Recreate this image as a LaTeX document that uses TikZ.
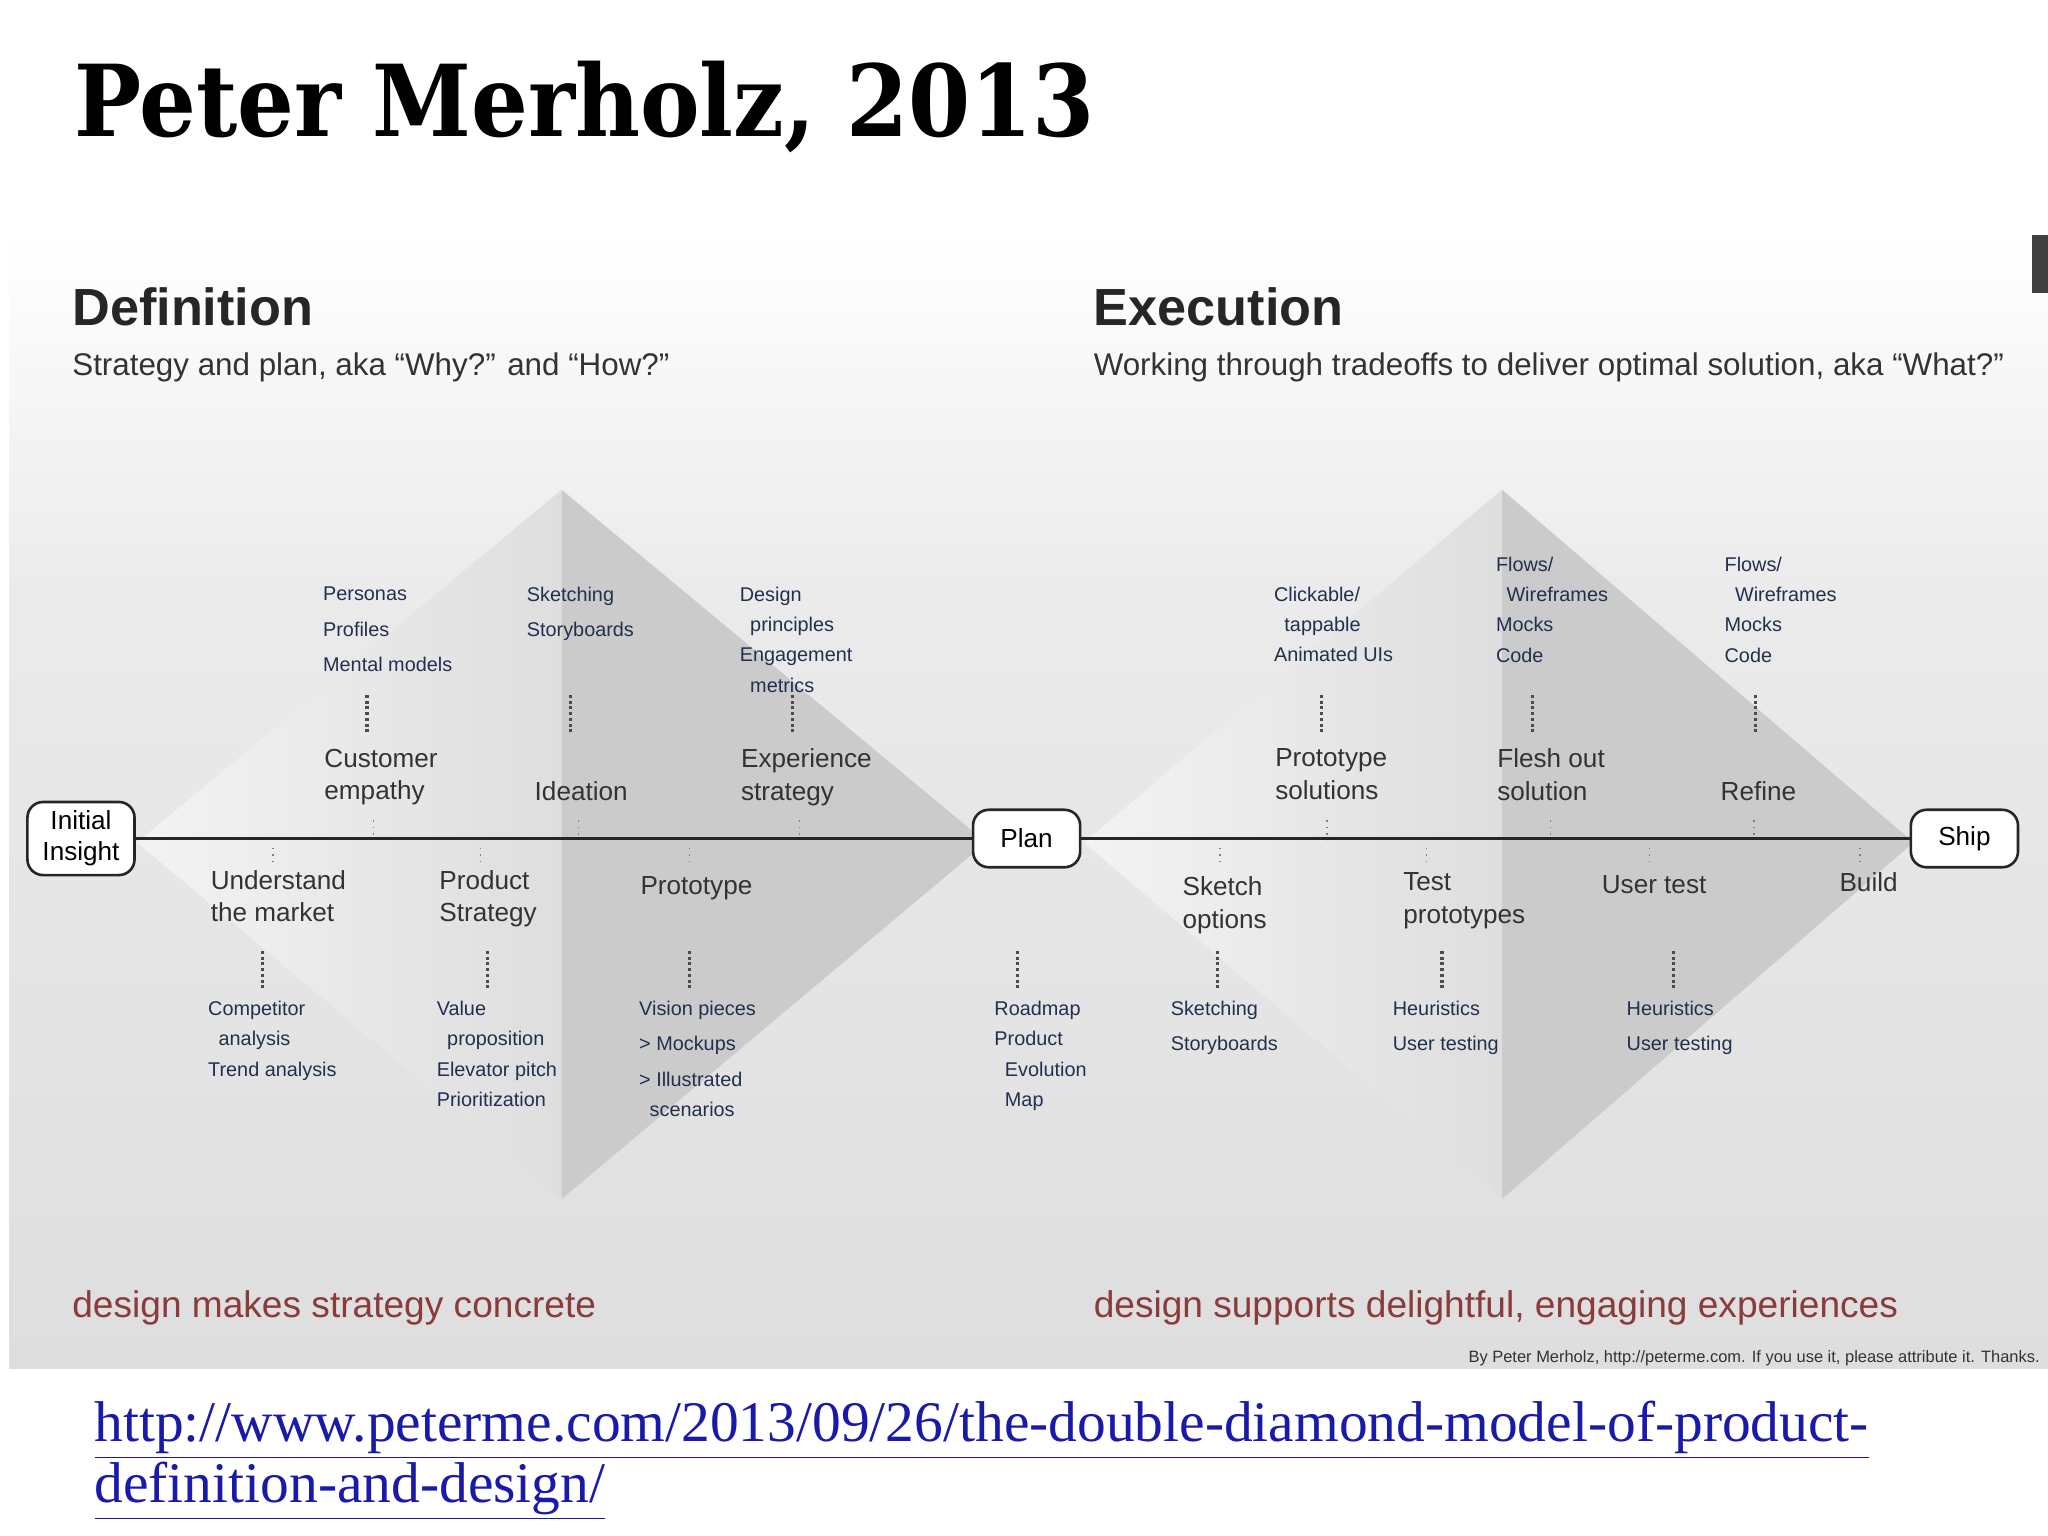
\documentclass[tikz,border=0pt]{standalone}
\usepackage{fontspec}
\setmainfont{Liberation Sans}
\newfontfamily\slab{DejaVu Serif Condensed}
\newfontfamily\urlfont{Liberation Serif}
\usetikzlibrary{shadings}
\definecolor{smallc}{HTML}{22304F}
\definecolor{medc}{HTML}{333333}
\definecolor{redc}{HTML}{8A3B3B}
\definecolor{linkc}{HTML}{1A1AAA}
\definecolor{bgA}{HTML}{EBEBEB}
\definecolor{bgB}{HTML}{DEDEDE}
\definecolor{dark}{HTML}{CBCBCB}
\tikzset{
 sm/.style={anchor=north west,align=left,inner sep=0pt,text=smallc,font=\fontsize{7.6}{11.6}\selectfont},
 md/.style={anchor=north west,align=left,inner sep=0pt,text=medc,font=\fontsize{10}{12.5}\selectfont},
 box/.style={draw=black!85,line width=1pt,rounded corners=6pt,fill=white,align=center,font=\fontsize{10}{12}\selectfont,minimum height=22pt,minimum width=41pt},
 dots/.style={densely dotted,line width=1.2pt,black!70},
 tdots/.style={dotted,line width=0.5pt,black!50},
}
\begin{document}
\begin{tikzpicture}[x=0.5pt,y=-0.5pt]
\useasboundingbox (0,0) rectangle (1568,1176);
\fill[white] (0,0) rectangle (1568,1176);
% panel
\shade[top color=white,bottom color=bgA] (7,180) rectangle (1568,450);
\shade[top color=bgA,bottom color=bgB] (7,450) rectangle (1568,1048);
\fill[black!75] (1556,180) rectangle (1568,224);
% diamonds
\foreach \l/\t/\r in {105/430/755, 830/1150/1465}{
 \shade[left color=bgA!60!white,right color=bgB] (\l,645) -- (\t,375) -- (\t,918) -- cycle;
 \fill[dark] (\t,375) -- (\r,645) -- (\t,918) -- cycle;
}
% title
\node[anchor=west,inner sep=0pt,font=\slab\bfseries\fontsize{38}{42}\selectfont] (title) at (57,82) {Peter Merholz, 2013};
\node[anchor=west,inner sep=0pt,font=\fontsize{20}{24}\selectfont\bfseries,text=black!85] (def) at (55,235) {Definition};
\node[anchor=west,inner sep=0pt,font=\fontsize{12}{14}\selectfont,text=medc] (defs) at (55,281) {Strategy and plan, aka “Why?” and “How?”};
\node[anchor=west,inner sep=0pt,font=\fontsize{20}{24}\selectfont\bfseries,text=black!85] (exe) at (837,235) {Execution};
\node[anchor=west,inner sep=0pt,font=\fontsize{12}{14}\selectfont,text=medc] (exes) at (837,281) {Working through tradeoffs to deliver optimal solution, aka “What?”};
% main line
\node[box] (ii) at (62,642) {Initial\\Insight};
\node[box] (plan) at (786,642) {Plan};
\node[box] (ship) at (1504,642) {Ship};
\draw[line width=1pt,black!85] (ii) -- (plan);
\draw[line width=1pt,black!85] (plan) -- (ship);
% upper small
\node[sm] (u1) at (247,449) {Personas\\[2pt]Profiles\\[2pt]Mental models};
\node[sm] (u2) at (403,449) {Sketching\\[2pt]Storyboards};
\node[sm] (u3) at (566,449) {Design\\\hspace*{4pt}principles\\Engagement\\\hspace*{4pt}metrics};
\node[sm] (u4) at (975,449) {Clickable/\\\hspace*{4pt}tappable\\Animated UIs};
\node[sm] (u5) at (1145,426) {Flows/\\\hspace*{4pt}Wireframes\\Mocks\\Code};
\node[sm] (u6) at (1320,426) {Flows/\\\hspace*{4pt}Wireframes\\Mocks\\Code};
% upper medium
\node[md] (m1) at (248,573) {Customer\\empathy};
\node[md] (m2) at (409,598) {Ideation};
\node[md] (m3) at (567,573) {Experience\\strategy};
\node[md] (m4) at (976,573) {Prototype\\solutions};
\node[md] (m5) at (1146,573) {Flesh out\\solution};
\node[md] (m6) at (1317,598) {Refine};
% lower medium
\node[md] (l1) at (161,666) {Understand\\the market};
\node[md] (l2) at (336,666) {Product\\Strategy};
\node[md] (l3) at (490,671) {Prototype};
\node[md] (l4) at (905,671) {Sketch\\options};
\node[md] (l5) at (1074,668) {Test\\prototypes};
\node[md] (l6) at (1226,670) {User test};
\node[md] (l7) at (1408,668) {Build};
% lower small
\node[sm] (s1) at (159,766) {Competitor\\\hspace*{4pt}analysis\\Trend analysis};
\node[sm] (s2) at (334,766) {Value\\\hspace*{4pt}proposition\\Elevator pitch\\Prioritization};
\node[sm] (s3) at (489,766) {Vision pieces\\[2pt]> Mockups\\[2pt]> Illustrated\\\hspace*{4pt}scenarios};
\node[sm] (s4) at (761,766) {Roadmap\\Product\\\hspace*{4pt}Evolution\\\hspace*{4pt}Map};
\node[sm] (s5) at (896,766) {Sketching\\[2pt]Storyboards};
\node[sm] (s6) at (1066,766) {Heuristics\\[2pt]User testing};
\node[sm] (s7) at (1245,766) {Heuristics\\[2pt]User testing};
% thick dotted connectors
\foreach \x in {281,437,607,1012,1173,1344}{\draw[dots] (\x,532) -- (\x,562);}
\foreach \x in {201,373,528,779,932,1104,1281}{\draw[dots] (\x,728) -- (\x,758);}
% thin dotted ticks
\foreach \x in {286,443,612,1016,1187,1343}{\draw[tdots] (\x,628) -- (\x,643);}
\foreach \x in {209,368,528,934,1092,1263,1424}{\draw[tdots] (\x,649) -- (\x,663);}
% bottom
\node[anchor=west,inner sep=0pt,text=redc,font=\fontsize{14.2}{16}\selectfont] (b1) at (55,1001) {design makes strategy concrete};
\node[anchor=west,inner sep=0pt,text=redc,font=\fontsize{14.2}{16}\selectfont] (b2) at (837,1001) {design supports delightful, engaging experiences};
\node[anchor=east,inner sep=0pt,text=medc,font=\fontsize{6.3}{8}\selectfont] (cr) at (1562,1040) {By Peter Merholz, http://peterme.com. If you use it, please attribute it. Thanks.};
\node[anchor=north west,align=left,inner sep=0pt,text=linkc,font=\urlfont\fontsize{22}{23.5}\selectfont] (url) at (72,1072) {\underline{http://www.peterme.com/2013/09/26/the-double-diamond-model-of-product-}\\\underline{definition-and-design/}};
\end{tikzpicture}
\end{document}
